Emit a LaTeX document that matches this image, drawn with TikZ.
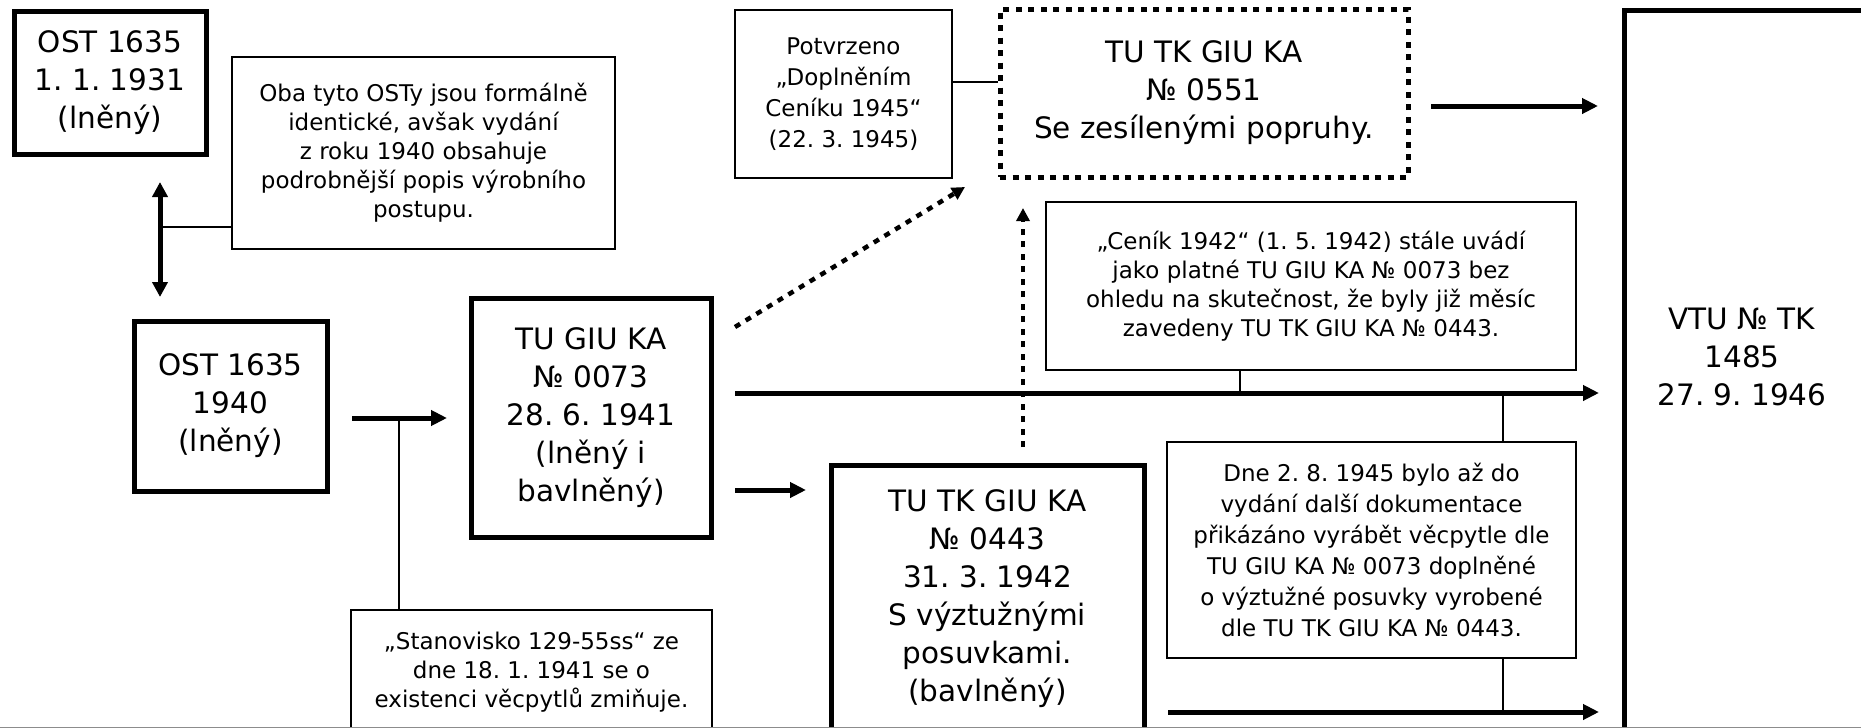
\documentclass[tikz,border=0pt]{standalone}
\usepackage{fontspec}
\setmainfont{DejaVu Sans}
\usetikzlibrary{arrows.meta}
\newcommand\bigf{\fontsize{29.5}{38}\selectfont}
\newcommand\smallf{\fontsize{23}{29}\selectfont}
\newcommand\smallwide{\fontsize{23}{31}\selectfont}
\frenchspacing
\tikzset{
  bigbox/.style={draw, line width=5pt, align=center, inner sep=0pt, font=\bigf},
  bigtext/.style={align=center, inner sep=0pt, font=\bigf},
  notebox/.style={draw, line width=2pt, align=center, inner sep=0pt, font=\smallf},
  dotbox/.style={draw, line width=5pt, dash pattern=on 6pt off 6.5pt, align=center, inner sep=0pt, font=\bigf},
  thickarrow/.style={line width=5pt, -{Triangle[length=16pt,width=15pt]}},
  dblarrow/.style={line width=5pt, {Triangle[length=15pt,width=15pt]}-{Triangle[length=15pt,width=15pt]}},
  dotarrow/.style={line width=4.5pt, dash pattern=on 6pt off 6.5pt, -{Triangle[length=13pt,width=13pt]}},
  thinline/.style={line width=2pt},
}
\begin{document}
\begin{tikzpicture}[x=1pt,y=-1pt]
\useasboundingbox (0,0) rectangle (1861,728);
\fill[white] (0,0) rectangle (1861,728);

% boxes
\node[bigbox, minimum width=192pt, minimum height=143pt] (A) at (110,82.5) {OST 1635\\1. 1. 1931\\(lněný)};
\node[notebox, minimum width=383pt, minimum height=192pt] (Oba) at (423.5,153) {Oba tyto OSTy jsou formálně\\identické, avšak vydání\\z roku 1940 obsahuje\\podrobnější popis výrobního\\postupu.};
\node[bigbox, minimum width=193pt, minimum height=170pt] (O40) at (230.5,406) {OST 1635\\1940\\(lněný)};
\node[notebox, minimum width=361pt, minimum height=125pt] (Stan) at (531.5,672.5) {„Stanovisko 129-55ss“ ze\\dne 18. 1. 1941 se o\\existenci věcpytlů zmiňuje.};
\node[bigbox, minimum width=240pt, minimum height=239pt] (G73) at (591,417.5) {TU GIU KA\\№ 0073\\28. 6. 1941\\(lněný i\\bavlněný)};
\node[notebox, font=\smallwide, minimum width=217pt, minimum height=168pt] (Pot) at (843.5,94) {Potvrzeno\\„Doplněním\\Ceníku 1945“\\(22. 3. 1945)};
\node[dotbox, minimum width=408pt, minimum height=168pt] (D551) at (1204,93) {TU TK GIU KA\\№ 0551\\Se zesílenými popruhy.};
\node[bigbox, minimum width=313pt, minimum height=267pt] (T443) at (987.5,598.5) {TU TK GIU KA\\№ 0443\\31. 3. 1942\\S výztužnými\\posuvkami.\\(bavlněný)};
\node[notebox, minimum width=530pt, minimum height=168pt] (Cen) at (1311,286) {„Ceník 1942“ (1. 5. 1942) stále uvádí\\jako platné TU GIU KA № 0073 bez\\ohledu na skutečnost, že byly již měsíc\\zavedeny TU TK GIU KA № 0443.};
\node[notebox, font=\smallwide, minimum width=409pt, minimum height=216pt] (Dne) at (1371.5,550) {Dne 2. 8. 1945 bylo až do\\vydání další dokumentace\\přikázáno vyrábět věcpytle dle\\TU GIU KA № 0073 doplněné\\o výztužné posuvky vyrobené\\dle TU TK GIU KA № 0443.};
\node[bigbox, minimum width=256pt, minimum height=735pt] (VTU) at (1752,377.5) {};
\node[bigtext] (VTUt) at (1742,357) {VTU № TK\\1485\\27. 9. 1946};

% thin grey edge at the bottom of the picture
\draw[black!45, line width=1.5pt] (0,727.3) -- (1861,727.3);

% connector end points
\coordinate (dA) at (160,182);
\coordinate (dB) at (160,297);
\coordinate (j1) at (160,227);
\coordinate (o1) at (352,418);
\coordinate (o2) at (447,418);
\coordinate (s1) at (399,418);
\coordinate (g1) at (735,327);
\coordinate (g2) at (965,187);
\coordinate (m1) at (735,393);
\coordinate (m2) at (1599,393);
\coordinate (l1) at (735,490);
\coordinate (l2) at (806,490);
\coordinate (v1) at (1023,447);
\coordinate (v2) at (1023,208);
\coordinate (p1) at (952,82);
\coordinate (r1) at (1431,106);
\coordinate (r2) at (1598,106);
\coordinate (c1) at (1240,393);
\coordinate (d1) at (1503,393);
\coordinate (d2) at (1503,712);
\coordinate (b1) at (1168,712);
\coordinate (b2) at (1599,712);

% connectors
\draw[dblarrow] (dA) -- (dB);
\draw[thinline] (j1) -- (j1 -| Oba.west);
\draw[thickarrow] (o1) -- (o2);
\draw[thinline] (s1) -- (s1 |- Stan.north);
\draw[thickarrow] (m1) -- (m2);
\draw[thickarrow] (l1) -- (l2);
\draw[dotarrow] (g1) -- (g2);
\draw[dotarrow] (v1) -- (v2);
\draw[thinline] (p1) -- (p1 -| D551.west);
\draw[thickarrow] (r1) -- (r2);
\draw[thinline] (c1) -- (c1 |- Cen.south);
\draw[thinline] (d1) -- (d1 |- Dne.north);
\draw[thinline] (d2) -- (d2 |- Dne.south);
\draw[thickarrow] (b1) -- (b2);
\end{tikzpicture}
\end{document}
